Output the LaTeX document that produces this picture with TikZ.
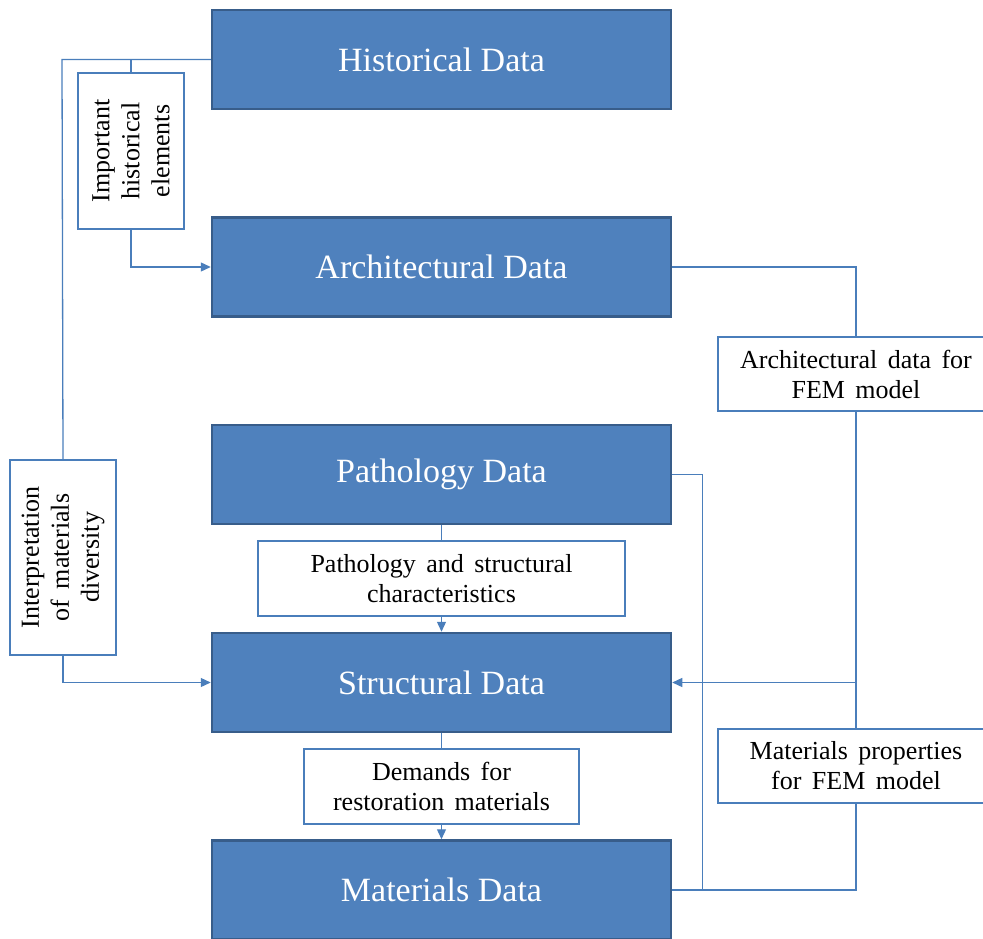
\documentclass[tikz,border=0pt]{standalone}
\usepackage{fontspec}
\setmainfont{Liberation Serif}
\newfontfamily\notefont{Liberation Serif}[WordSpace=1.6]
\usepackage{tikz}
\usepackage{xcolor}
\usetikzlibrary{arrows.meta}

\definecolor{boxblue}{HTML}{4F81BD}
\definecolor{boxedge}{HTML}{385D8A}
\definecolor{linkblue}{HTML}{4A7EBB}

\begin{document}
\begin{tikzpicture}[x=1pt,y=-1pt,
  databox/.style={draw=boxedge,line width=2.5pt,fill=boxblue,text=white,
    minimum width=459pt,minimum height=99pt,inner sep=0pt,
    font=\fontsize{34}{36}\selectfont},
  notebox/.style={draw=linkblue,line width=1.2pt,fill=white,align=center,
    inner sep=0pt,font=\notefont\fontsize{26}{30}\selectfont},
  link/.style={draw=linkblue,line width=1.3pt},
  tip/.style={-{Triangle[length=10pt,width=9pt]}}]
\useasboundingbox (0,0) rectangle (983,939);
% main data boxes
\node[databox] (hist) at (441.5,59.5) {Historical Data};
\node[databox] (arch) at (441.5,267) {Architectural Data};
\node[databox] (path) at (441.5,474.5) {Pathology Data};
\node[databox] (stru) at (441.5,682.5) {Structural Data};
\node[databox] (mate) at (441.5,890) {Materials Data};
% notes on the links
\node[notebox,rotate=90,minimum width=156pt,minimum height=106pt] (impo) at (131,151) {Important\\historical\\elements};
\node[notebox,rotate=90,minimum width=195pt,minimum height=106pt] (inte) at (63,557.5) {Interpretation\\of materials\\diversity};
\node[notebox,minimum width=276pt,minimum height=74pt] (afem) at (856,374) {Architectural data for\\FEM model};
\node[notebox,minimum width=276pt,minimum height=74pt] (mfem) at (856,766) {Materials properties\\for FEM model};
\node[notebox,minimum width=367pt,minimum height=75pt] (pchr) at (441.5,578.5) {Pathology and structural\\characteristics};
\node[notebox,minimum width=275pt,minimum height=75pt] (dema) at (441.5,786.5) {Demands for\\restoration materials};
% links
\coordinate (hl) at (62,59.5);
\coordinate (ar) at (856,682.5);
\draw[link] (hist.west) -- (hl) -- (inte.east);
\draw[link] (impo.east |- hl) -- (impo.east);
\draw[link,tip] (impo.west) |- (arch.west);
\draw[link,tip] (inte.west) |- (stru.west);
\draw[link] (arch.east) -| (afem.north);
\draw[link] (afem.south) -- (mfem.north);
\draw[link,tip] (ar) -- (stru.east);
\draw[link] (mate.east) -| (mfem.south);
\draw[link] (path.east) -- ++(30,0) |- (mate.east);
\draw[link] (path.south) -- (pchr.north);
\draw[link,tip] (pchr.south) -- (stru.north);
\draw[link] (stru.south) -- (dema.north);
\draw[link,tip] (dema.south) -- (mate.north);
\end{tikzpicture}
\end{document}
